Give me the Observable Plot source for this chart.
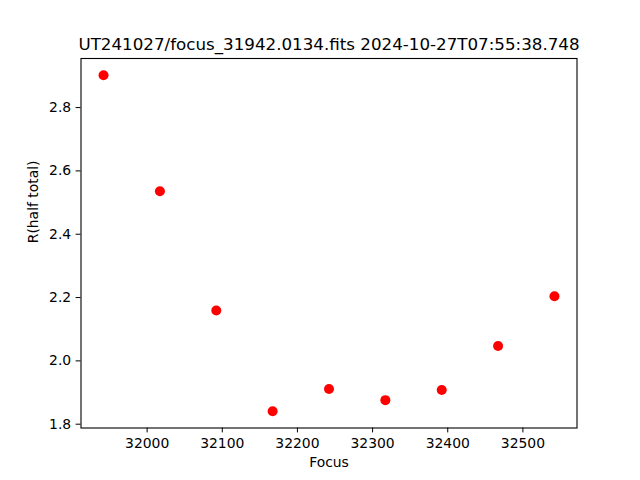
<!DOCTYPE html>
<html>
<head>
<meta charset="utf-8">
<script src="https://cdn.jsdelivr.net/npm/d3@7"></script>
<script src="https://cdn.jsdelivr.net/npm/@observablehq/plot@0.6"></script>
<style>
  html, body { margin: 0; padding: 0; background: #fff; }
  svg { display: block; }
</style>
</head>
<body>
<div id="chart"></div>
<script>
const focus = [31942, 32017, 32092, 32167, 32242, 32317, 32392, 32467, 32542];
const rHalf = [2.902, 2.536, 2.159, 1.841, 1.911, 1.876, 1.908, 2.047, 2.204];
const xTicks = [32000, 32100, 32200, 32300, 32400, 32500];
const yTicks = [1.8, 2.0, 2.2, 2.4, 2.6, 2.8];
const titleText = "UT241027/focus_31942.0134.fits 2024-10-27T07:55:38.748";
const xLabel = "Focus";
const yLabel = "R(half total)";

const data = focus.map((f, i) => ({focus: f, r: rHalf[i]}));

const chart = Plot.plot({
  width: 640,
  height: 480,
  marginLeft: 80.5,
  marginRight: 63.5,
  marginTop: 58,
  marginBottom: 52.5,
  style: {fontFamily: "DejaVu Sans, sans-serif", fontSize: "13.9px", color: "#000", background: "#fff"},
  x: {domain: [31912, 32572]},
  y: {domain: [1.788, 2.955]},
  marks: [
    Plot.frame({stroke: "#000", strokeWidth: 1.1}),
    Plot.axisX({ticks: xTicks, tickFormat: d => String(d), tickSize: 4.9, tickPadding: 4.9, label: null, fontSize: 13.9, stroke: "#000", color: "#000"}),
    Plot.axisY({ticks: yTicks, tickFormat: d => d.toFixed(1), tickSize: 4.9, tickPadding: 4.9, label: null, fontSize: 13.9, stroke: "#000", color: "#000"}),
    Plot.dot(data, {x: "focus", y: "r", r: 5, fill: "#ff0000", stroke: "none"}),
    Plot.text([titleText], {frameAnchor: "top", dy: -14, lineAnchor: "middle", fontSize: 16.7, fill: "#000"}),
    Plot.text([xLabel], {frameAnchor: "bottom", dy: 34.5, lineAnchor: "middle", fontSize: 13.9, fill: "#000"}),
    Plot.text([yLabel], {frameAnchor: "left", dx: -47, rotate: -90, lineAnchor: "middle", fontSize: 13.9, fill: "#000"})
  ]
});
document.getElementById("chart").appendChild(chart);
</script>
</body>
</html>
